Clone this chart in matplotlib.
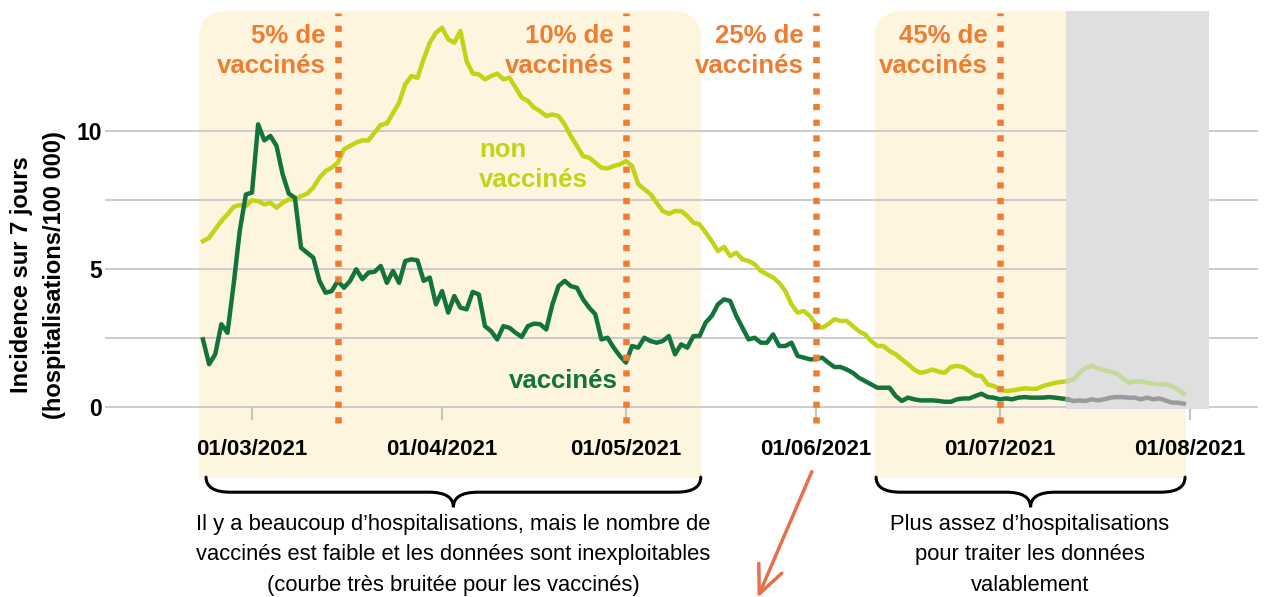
import matplotlib
matplotlib.use("Agg")
import matplotlib.pyplot as plt
import matplotlib.dates as mdates
from matplotlib.patches import FancyBboxPatch, Rectangle, PathPatch
from matplotlib.path import Path
import pandas as pd

plt.rcParams['font.family'] = ['Liberation Sans', 'DejaVu Sans']

# daily 7-day incidence, from 21/02/2021
start_date = '2021-02-21'
vaccines = [
    2.45, 1.55, 1.91, 3.0, 2.69, 4.44, 6.38, 7.7, 7.77, 10.24,
    9.66, 9.82, 9.46, 8.43, 7.73, 7.58, 5.77, 5.59, 5.41, 4.57,
    4.14, 4.2, 4.57, 4.32, 4.57, 4.99, 4.63, 4.87, 4.9, 5.11,
    4.5, 4.93, 4.5, 5.29, 5.35, 5.31, 4.57, 4.69, 3.72, 4.2,
    3.42, 4.02, 3.6, 3.54, 4.17, 4.08, 2.93, 2.75, 2.45, 2.93,
    2.87, 2.69, 2.54, 2.93, 3.02, 3.0, 2.81, 3.72, 4.38, 4.57,
    4.38, 4.32, 3.9, 3.6, 3.36, 2.45, 2.51, 2.15, 1.85, 1.61,
    2.21, 2.15, 2.51, 2.39, 2.33, 2.39, 2.57, 1.91, 2.27, 2.15,
    2.57, 2.57, 3.06, 3.3, 3.72, 3.9, 3.84, 3.3, 2.87, 2.45,
    2.51, 2.33, 2.33, 2.63, 2.21, 2.21, 2.33, 1.85, 1.79, 1.73,
    1.73, 1.79, 1.61, 1.45, 1.45, 1.36, 1.24, 1.06, 0.94, 0.82,
    0.7, 0.7, 0.7, 0.4, 0.22, 0.34, 0.28, 0.24, 0.24, 0.24,
    0.22, 0.19, 0.19, 0.28, 0.31, 0.31, 0.4, 0.48, 0.36, 0.34,
    0.28, 0.31, 0.28, 0.34, 0.36, 0.34, 0.34, 0.34, 0.36, 0.34,
    0.31, 0.28, 0.22, 0.24, 0.22, 0.28, 0.24, 0.28, 0.34, 0.36,
    0.36, 0.34, 0.34, 0.28, 0.34, 0.28, 0.31, 0.24, 0.16, 0.16,
    0.12,
]
non_vaccines = [
    6.01, 6.13, 6.44, 6.74, 6.98, 7.25, 7.32, 7.28, 7.49, 7.46,
    7.34, 7.4, 7.22, 7.4, 7.52, 7.52, 7.64, 7.73, 7.95, 8.31,
    8.55, 8.67, 8.85, 9.34, 9.46, 9.58, 9.66, 9.66, 9.94, 10.22,
    10.27, 10.65, 11.03, 11.69, 11.99, 11.93, 12.6, 13.2, 13.56, 13.74,
    13.32, 13.2, 13.62, 12.54, 12.08, 12.05, 11.87, 11.99, 12.08, 11.87,
    11.93, 11.57, 11.21, 11.09, 10.85, 10.72, 10.54, 10.6, 10.54, 10.24,
    9.82, 9.46, 9.09, 9.03, 8.85, 8.67, 8.64, 8.73, 8.79, 8.91,
    8.73, 8.07, 7.89, 7.71, 7.4, 7.1, 7.0, 7.1, 7.1, 6.92,
    6.68, 6.62, 6.32, 6.01, 5.65, 5.8, 5.47, 5.59, 5.35, 5.29,
    5.17, 4.93, 4.81, 4.69, 4.5, 4.2, 3.72, 3.42, 3.48, 3.3,
    3.0, 2.87, 3.0, 3.18, 3.12, 3.12, 2.93, 2.75, 2.63, 2.39,
    2.21, 2.21, 2.03, 1.91, 1.73, 1.55, 1.36, 1.24, 1.28, 1.36,
    1.28, 1.24, 1.45, 1.49, 1.45, 1.3, 1.15, 1.12, 0.82, 0.76,
    0.64, 0.58, 0.6, 0.64, 0.68, 0.66, 0.66, 0.76, 0.82, 0.88,
    0.91, 0.94, 1.0, 1.24, 1.43, 1.49, 1.4, 1.33, 1.28, 1.21,
    1.06, 0.88, 0.92, 0.94, 0.88, 0.85, 0.82, 0.82, 0.76, 0.64,
    0.48,
]
fade_from = '2021-07-12'   # last weeks: not enough data

month_ticks = ['2021-03-01', '2021-04-01', '2021-05-01', '2021-06-01', '2021-07-01', '2021-08-01']
milestones = ['2021-03-15', '2021-05-01', '2021-06-01', '2021-07-01']
milestone_labels = ['5% de\nvaccinés', '10% de\nvaccinés', '25% de\nvaccinés', '45% de\nvaccinés']

noisy_span = ('2021-02-20 08:00', '2021-05-13 06:00')
sparse_span = ('2021-06-10 14:00', '2021-07-31 10:00')
grey_span = ('2021-07-11 19:00', '2021-08-04 02:00')

noisy_text = ("Il y a beaucoup d\u2019hospitalisations, mais le nombre de\n"
              "vaccinés est faible et les données sont inexploitables\n"
              "(courbe très bruitée pour les vaccinés)")
sparse_text = "Plus assez d\u2019hospitalisations\npour traiter les données\nvalablement"

CREAM = '#FEF5DE'
ORANGE = '#EE7D31'
LIME = '#C3D317'
GREEN = '#12733D'

dates = pd.date_range(start_date, periods=len(vaccines))
df = pd.DataFrame({'vacc': vaccines, 'non': non_vaccines}, index=dates)
d = mdates.datestr2num
t0 = d('2021-03-01')

W, H = 1272, 597
fig = plt.figure(figsize=(W / 100, H / 100), dpi=100)
ax = fig.add_axes([105 / W, (H - 420) / H, (1258 - 105) / W, (420 - 12) / H])
ax.set_facecolor('none')
ax.set_xlim(t0 - 23.98, t0 + 164.1)
ax.set_ylim(-0.47, 14.31)
for s in ax.spines.values():
    s.set_visible(False)

# background zones
ytop, ybot = 14.35, -2.57
for a, b in [noisy_span, sparse_span]:
    x0, x1 = d(a), d(b)
    ax.add_patch(FancyBboxPatch((x0, ybot + 3), x1 - x0, ytop - ybot - 3,
                                boxstyle='round,pad=0,rounding_size=5',
                                mutation_aspect=0.2, fc=CREAM, ec='none',
                                zorder=0, clip_on=False))
    ax.add_patch(Rectangle((x0, ybot), x1 - x0, 5, fc=CREAM, ec='none',
                           zorder=0, clip_on=False))
ax.add_patch(Rectangle((d(grey_span[0]), -0.07), d(grey_span[1]) - d(grey_span[0]),
                       ytop + 0.07, fc='#DFDFDF', ec='none', zorder=1.5, clip_on=False))

# grid + ticks
ax.set_yticks([0, 5, 10])
ax.set_yticks([2.5, 7.5], minor=True)
ax.grid(axis='y', which='both', color='#C8C8C8', lw=1.3, zorder=1)
ax.set_axisbelow(True)
ax.tick_params(axis='y', which='both', length=0, pad=2, labelsize=16.5)
ax.set_xticks([d(m) for m in month_ticks])
ax.xaxis.set_major_formatter(mdates.DateFormatter('%d/%m/%Y'))
ax.tick_params(axis='x', direction='in', length=10, width=1.5, color='#C4C4C4',
               pad=14, labelsize=16)
for lab in ax.get_xticklabels() + ax.get_yticklabels():
    lab.set_fontweight('bold')

# curves
fresh = df.loc[:fade_from]
faded = df.loc[fade_from:]
ax.plot(fresh.index, fresh['non'], color=LIME, lw=3.2, zorder=3, solid_joinstyle='round')
ax.plot(fresh.index, fresh['vacc'], color=GREEN, lw=3.2, zorder=3, solid_joinstyle='round')
ax.plot(faded.index, faded['non'], color='#C5D99B', lw=3.2, zorder=3)
ax.plot(faded.index, faded['vacc'], color='#9B9B9B', lw=3.2, zorder=3)

# vaccination milestones
for m, lab in zip(milestones, milestone_labels):
    ax.plot([d(m), d(m)], [-0.58, 14.27], color=ORANGE, lw=4.7,
            dashes=(0.95, 1.45), dash_capstyle='butt', zorder=4, clip_on=False)
    ax.annotate(lab, xy=(d(m), 12.1), xytext=(-9, 0), textcoords='offset points',
                ha='right', va='baseline', multialignment='right', color=ORANGE,
                fontsize=18.5, fontweight='bold', linespacing=1.3, zorder=5)

ax.text(t0 + 37.0, 7.97, 'non\nvaccinés', color=LIME, fontsize=18.5,
        fontweight='bold', va='baseline', linespacing=1.3, zorder=5)
ax.text(t0 + 41.9, 0.69, 'vaccinés', color=GREEN, fontsize=18.5,
        fontweight='bold', va='baseline', zorder=5)


def brace(xa, xb, y, depth=1.09, r=4.0):
    xm = (xa + xb) / 2
    ym, yb = y - depth / 2, y - depth
    verts = [(xa, y), (xa, ym), (xa + r, ym), (xm - r, ym), (xm, ym), (xm, yb),
             (xm, ym), (xm + r, ym), (xb - r, ym), (xb, ym), (xb, y)]
    codes = [Path.MOVETO, Path.CURVE3, Path.CURVE3, Path.LINETO, Path.CURVE3, Path.CURVE3,
             Path.CURVE3, Path.CURVE3, Path.LINETO, Path.CURVE3, Path.CURVE3]
    ax.add_patch(PathPatch(Path(verts, codes), fc='none', ec='black', lw=2.2,
                           capstyle='round', clip_on=False, zorder=5))


brace(t0 - 7.5, t0 + 73.2, -2.54)
brace(t0 + 101.8, t0 + 152.2, -2.54)

ax.text(t0 + 32.8, -5.36, noisy_text, ha='center', va='center', fontsize=15.8,
        linespacing=1.6)
ax.text(t0 + 126.9, -5.36, sparse_text, ha='center', va='center', fontsize=15.8,
        linespacing=1.6)

ax.annotate('', xy=(t0 + 82.3, -7.0), xytext=(t0 + 91.5, -2.25),
            arrowprops=dict(arrowstyle='->,head_length=2.0,head_width=0.9',
                            color='#E4704C', lw=2.5),
            annotation_clip=False)

fig.text(38 / W, 1 - 275 / H, 'Incidence sur 7 jours\n(hospitalisations/100 000)',
         rotation=90, ha='center', va='center', multialignment='center',
         fontsize=17, fontweight='bold', linespacing=1.6)

fig.savefig('out.png', dpi=100)
